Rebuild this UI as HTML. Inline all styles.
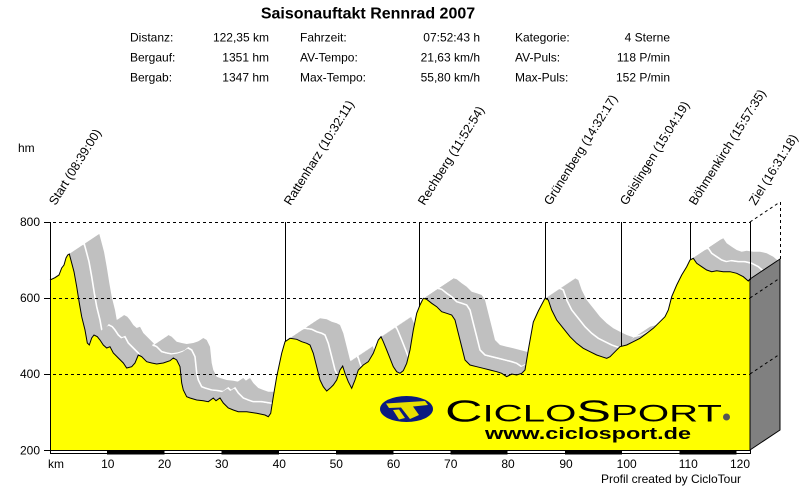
<!DOCTYPE html>
<html>
<head>
<meta charset="utf-8">
<style>
html,body{margin:0;padding:0;background:#fff;}
svg{display:block;}
text{font-family:"Liberation Sans",Arial,sans-serif;fill:#000;}
</style>
</head>
<body>
<svg width="800" height="487" viewBox="0 0 800 487" xmlns="http://www.w3.org/2000/svg">
<defs>
<polygon id="pf" points="50,280 55,277.7 59,275 61.7,268 64,265 66,258 67.7,255 69.3,254 71.7,263 74,271.7 76.7,286.7 79.3,303 81.7,316.7 85,330 87.3,343 89.3,345 91.7,338 94,335 97.3,336.7 100,340 103.3,345 106.7,348 110,346.7 113.3,353 118.3,358 123.3,363 126.7,368 131.7,366.7 135,363 138.3,355 141.7,356.7 146.7,361.7 151.7,363 156.7,364 163.3,363 170,360.7 173.3,358 176.7,360 180,366.7 181.7,383 183.3,390 186.7,396.7 190,398 196.7,400 203.3,400.7 208.3,401.7 213.3,398 216,400.7 220,398 223.3,403 228.3,408 233.3,410 238.3,411.7 246.7,411.7 256.7,413.3 265,415 268.3,416.7 270.7,413.3 273.3,396.7 276.7,376.7 281.7,353.3 285,341.7 290,338.3 296.7,339.3 301.7,341.7 306.7,343.3 310,345 313.3,353.3 316.7,366.7 320,380 323.3,386.7 326.7,391 330,388.3 333.3,385 336.7,380 340,370 342.7,366 345,373.3 348.3,381.7 351.7,388.3 355,380 358.3,370 363.3,365 368.3,361.7 373.3,353.3 378.3,340 381,336.7 383.3,341.7 386.7,350 390,358.3 393.3,366.7 396.7,371.7 400,373.3 403.3,370.7 406.7,363.3 410,350 413.3,330 416.7,313.3 420,305 423.3,298.3 426.7,299.3 431.7,303.3 436.7,306.7 441.7,311.7 446.7,313.3 451.7,315 455,320 458.3,333.3 461.7,346.7 465,360 470,365 476.7,366.7 483.3,368.3 490,370 496.7,371.7 501.7,373.3 506.7,376.7 511.7,374 516.7,375 521.7,373.3 525,370 528.3,350 533.3,322 538.3,311 545,298.3 548.3,300 551.7,310 556.7,320 563.3,328.3 570,336.7 576.7,343.3 583.3,348.3 590,351.7 596.7,355 601.7,356.7 606.7,358.3 610,356.7 615,351.7 620,346.7 626.7,345 633.3,341.7 640,338.3 646.7,333.3 653.3,328.3 660,321.7 665,316.7 668.3,310 671.7,296.7 676.7,285 681.7,275 686.7,266.7 690,260 693.3,258.3 696.7,263.3 701.7,266.7 706.7,270 711.7,271.7 716.7,270.7 723.3,271.7 730,271.7 736.7,273.3 743.3,276.7 748.3,281 750,279 750,450 50,450"/>
<polyline id="pl" fill="none" points="50,280 55,277.7 59,275 61.7,268 64,265 66,258 67.7,255 69.3,254 71.7,263 74,271.7 76.7,286.7 79.3,303 81.7,316.7 85,330 87.3,343 89.3,345 91.7,338 94,335 97.3,336.7 100,340 103.3,345 106.7,348 110,346.7 113.3,353 118.3,358 123.3,363 126.7,368 131.7,366.7 135,363 138.3,355 141.7,356.7 146.7,361.7 151.7,363 156.7,364 163.3,363 170,360.7 173.3,358 176.7,360 180,366.7 181.7,383 183.3,390 186.7,396.7 190,398 196.7,400 203.3,400.7 208.3,401.7 213.3,398 216,400.7 220,398 223.3,403 228.3,408 233.3,410 238.3,411.7 246.7,411.7 256.7,413.3 265,415 268.3,416.7 270.7,413.3 273.3,396.7 276.7,376.7 281.7,353.3 285,341.7 290,338.3 296.7,339.3 301.7,341.7 306.7,343.3 310,345 313.3,353.3 316.7,366.7 320,380 323.3,386.7 326.7,391 330,388.3 333.3,385 336.7,380 340,370 342.7,366 345,373.3 348.3,381.7 351.7,388.3 355,380 358.3,370 363.3,365 368.3,361.7 373.3,353.3 378.3,340 381,336.7 383.3,341.7 386.7,350 390,358.3 393.3,366.7 396.7,371.7 400,373.3 403.3,370.7 406.7,363.3 410,350 413.3,330 416.7,313.3 420,305 423.3,298.3 426.7,299.3 431.7,303.3 436.7,306.7 441.7,311.7 446.7,313.3 451.7,315 455,320 458.3,333.3 461.7,346.7 465,360 470,365 476.7,366.7 483.3,368.3 490,370 496.7,371.7 501.7,373.3 506.7,376.7 511.7,374 516.7,375 521.7,373.3 525,370 528.3,350 533.3,322 538.3,311 545,298.3 548.3,300 551.7,310 556.7,320 563.3,328.3 570,336.7 576.7,343.3 583.3,348.3 590,351.7 596.7,355 601.7,356.7 606.7,358.3 610,356.7 615,351.7 620,346.7 626.7,345 633.3,341.7 640,338.3 646.7,333.3 653.3,328.3 660,321.7 665,316.7 668.3,310 671.7,296.7 676.7,285 681.7,275 686.7,266.7 690,260 693.3,258.3 696.7,263.3 701.7,266.7 706.7,270 711.7,271.7 716.7,270.7 723.3,271.7 730,271.7 736.7,273.3 743.3,276.7 748.3,281 750,279"/>
</defs>

<!-- 3D gray shadow band (back) -->
<g fill="#c0c0c0">
<use href="#pf" transform="translate(30,-20)"/>
<use href="#pf" transform="translate(29,-19.33)"/>
<use href="#pf" transform="translate(28,-18.67)"/>
<use href="#pf" transform="translate(27,-18)"/>
<use href="#pf" transform="translate(26,-17.33)"/>
<use href="#pf" transform="translate(25,-16.67)"/>
<use href="#pf" transform="translate(24,-16)"/>
<use href="#pf" transform="translate(23,-15.33)"/>
<use href="#pf" transform="translate(22,-14.67)"/>
<use href="#pf" transform="translate(21,-14)"/>
<use href="#pf" transform="translate(20,-13.33)"/>
<use href="#pf" transform="translate(19,-12.67)"/>
<use href="#pf" transform="translate(18,-12)"/>
<use href="#pf" transform="translate(17,-11.33)"/>
<use href="#pf" transform="translate(16,-10.67)"/>
</g>
<use href="#pl" transform="translate(15,-10)" stroke="#ffffff" stroke-width="1.6"/>
<g fill="#c0c0c0">
<use href="#pf" transform="translate(14,-9.33)"/>
<use href="#pf" transform="translate(13,-8.67)"/>
<use href="#pf" transform="translate(12,-8)"/>
<use href="#pf" transform="translate(11,-7.33)"/>
<use href="#pf" transform="translate(10,-6.67)"/>
<use href="#pf" transform="translate(9,-6)"/>
<use href="#pf" transform="translate(8,-5.33)"/>
<use href="#pf" transform="translate(7,-4.67)"/>
<use href="#pf" transform="translate(6,-4)"/>
<use href="#pf" transform="translate(5,-3.33)"/>
<use href="#pf" transform="translate(4,-2.67)"/>
<use href="#pf" transform="translate(3,-2)"/>
<use href="#pf" transform="translate(2,-1.33)"/>
<use href="#pf" transform="translate(1,-0.67)"/>
</g>

<!-- front yellow profile -->
<use href="#pf" fill="#ffff00"/>

<!-- logo -->
<g>
<ellipse cx="406.5" cy="409" rx="26.5" ry="13" fill="#0a1a80"/>
<path d="M386,403.5 L425,401 L428,405 L413,406.5 L419,415 L410,419 L401,407.5 L389,408 Z" fill="#e8e000"/>
<path d="M393,410 L399,409.5 L405,418 L399,419.5 Z" fill="#e8e000"/>
<text x="445" y="421.5" font-size="31" textLength="277" lengthAdjust="spacingAndGlyphs">C<tspan font-size="24">ICLO</tspan>S<tspan font-size="24">PORT</tspan></text>
<circle cx="726.5" cy="417" r="3.5" fill="#555"/>
<text x="485" y="439" font-size="17" font-weight="bold" textLength="206" lengthAdjust="spacingAndGlyphs">www.ciclosport.de</text>
</g>

<!-- profile outline -->
<use href="#pl" stroke="#000" stroke-width="1"/>

<!-- side face -->
<polygon points="750,279 780,259 780,430 750,450" fill="#808080" stroke="#000" stroke-width="1"/>

<!-- grid -->
<g stroke="#000" stroke-width="1" fill="none" shape-rendering="crispEdges">
<line x1="44" y1="222.5" x2="51" y2="222.5"/>
<line x1="44" y1="298.5" x2="51" y2="298.5"/>
<line x1="44" y1="374.5" x2="51" y2="374.5"/>
<line x1="44" y1="450.5" x2="51" y2="450.5"/>
</g>
<g stroke="#000" stroke-width="1" fill="none" stroke-dasharray="3 3">
<line x1="53" y1="222.5" x2="750" y2="222.5" shape-rendering="crispEdges"/>
<line x1="53" y1="298.5" x2="750" y2="298.5" shape-rendering="crispEdges"/>
<line x1="53" y1="374.5" x2="750" y2="374.5" shape-rendering="crispEdges"/>
<line x1="750" y1="222" x2="780" y2="202"/>
<line x1="750" y1="298" x2="780" y2="278"/>
<line x1="750" y1="374" x2="780" y2="354"/>
<line x1="780.5" y1="202" x2="780.5" y2="259" shape-rendering="crispEdges"/>
</g>

<!-- waypoint lines -->
<g stroke="#000" stroke-width="1" shape-rendering="crispEdges">
<line x1="50.5" y1="222" x2="50.5" y2="454"/>
<line x1="285.5" y1="222" x2="285.5" y2="341"/>
<line x1="419.5" y1="222" x2="419.5" y2="307"/>
<line x1="545.5" y1="222" x2="545.5" y2="298"/>
<line x1="621.5" y1="222" x2="621.5" y2="346"/>
<line x1="690.5" y1="222" x2="690.5" y2="260"/>
<line x1="750.5" y1="222" x2="750.5" y2="280"/>
</g>

<!-- bottom km bar -->
<rect x="50.5" y="450.5" width="700" height="3" fill="#fff" stroke="#000" stroke-width="1" shape-rendering="crispEdges"/>
<g fill="#000" shape-rendering="crispEdges">
<rect x="107" y="450" width="57.4" height="4.5"/>
<rect x="221.6" y="450" width="57.3" height="4.5"/>
<rect x="336.1" y="450" width="57.2" height="4.5"/>
<rect x="450.5" y="450" width="57.2" height="4.5"/>
<rect x="564.9" y="450" width="57.2" height="4.5"/>
<rect x="679.3" y="450" width="57.3" height="4.5"/>
</g>

<!-- header -->
<text x="368" y="18.5" font-size="16" font-weight="bold" text-anchor="middle">Saisonauftakt Rennrad 2007</text>
<g font-size="12">
<text x="130" y="41.5">Distanz:</text>
<text x="130" y="61.5">Bergauf:</text>
<text x="130" y="81.5">Bergab:</text>
<text x="269" y="41.5" text-anchor="end">122,35 km</text>
<text x="269" y="61.5" text-anchor="end">1351 hm</text>
<text x="269" y="81.5" text-anchor="end">1347 hm</text>
<text x="300" y="41.5">Fahrzeit:</text>
<text x="300" y="61.5">AV-Tempo:</text>
<text x="300" y="81.5">Max-Tempo:</text>
<text x="480" y="41.5" text-anchor="end">07:52:43 h</text>
<text x="480" y="61.5" text-anchor="end">21,63 km/h</text>
<text x="480" y="81.5" text-anchor="end">55,80 km/h</text>
<text x="515" y="41.5">Kategorie:</text>
<text x="515" y="61.5">AV-Puls:</text>
<text x="515" y="81.5">Max-Puls:</text>
<text x="670" y="41.5" text-anchor="end">4 Sterne</text>
<text x="670" y="61.5" text-anchor="end">118 P/min</text>
<text x="670" y="81.5" text-anchor="end">152 P/min</text>

<text x="18" y="152">hm</text>
<text x="40" y="226" text-anchor="end">800</text>
<text x="40" y="302" text-anchor="end">600</text>
<text x="40" y="378" text-anchor="end">400</text>
<text x="40" y="454.5" text-anchor="end">200</text>

<text x="48" y="468">km</text>
<text x="107.8" y="468" text-anchor="middle">10</text>
<text x="164.5" y="468" text-anchor="middle">20</text>
<text x="221.7" y="468" text-anchor="middle">30</text>
<text x="279.3" y="468" text-anchor="middle">40</text>
<text x="336.3" y="468" text-anchor="middle">50</text>
<text x="393.5" y="468" text-anchor="middle">60</text>
<text x="450.7" y="468" text-anchor="middle">70</text>
<text x="508" y="468" text-anchor="middle">80</text>
<text x="566" y="468" text-anchor="middle">90</text>
<text x="626.7" y="468" text-anchor="middle">100</text>
<text x="688.3" y="468" text-anchor="middle">110</text>
<text x="740" y="468" text-anchor="middle">120</text>
<text x="741" y="483" text-anchor="end">Profil created by CicloTour</text>
</g>

<!-- waypoint labels -->
<g font-size="12.5">
<text transform="translate(55.5,206) rotate(-58)">Start (08:39:00)</text>
<text transform="translate(290.5,206) rotate(-58)">Rattenharz (10:32:11)</text>
<text transform="translate(424.5,206) rotate(-58)">Rechberg (11:52:54)</text>
<text transform="translate(550.5,206) rotate(-58)">Grünenberg (14:32:17)</text>
<text transform="translate(626.5,206) rotate(-58)">Geislingen (15:04:19)</text>
<text transform="translate(695.5,206) rotate(-58)">Böhmenkirch (15:57:35)</text>
<text transform="translate(755.5,206) rotate(-58)">Ziel (16:31:18)</text>
</g>
</svg>
</body>
</html>
